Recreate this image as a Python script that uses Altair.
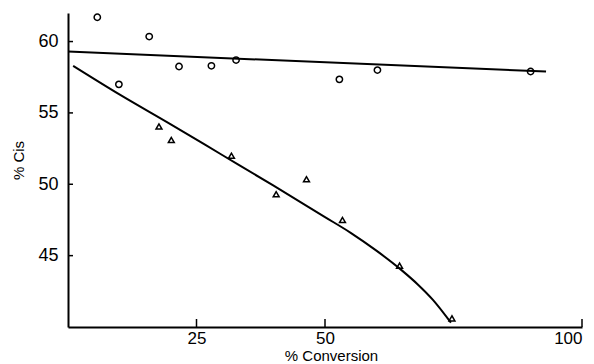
import altair as alt
import pandas as pd

# Circles (upper series)
circ_x = [5.7, 9.9, 15.8, 21.6, 27.9, 32.7, 52.8, 60.2, 90.0]
circ_y = [61.7, 57.0, 60.35, 58.25, 58.3, 58.7, 57.35, 58.0, 57.9]

# Triangles (lower series)
tri_x = [17.7, 20.1, 31.8, 40.5, 46.4, 53.4, 64.5, 74.7]
tri_y = [54.05, 53.1, 52.0, 49.3, 50.35, 47.5, 44.3, 40.6]

# Fitted lines
top_x = [0, 93]
top_y = [59.3, 57.9]
curve_x = [1, 10, 20, 30, 40, 50, 55, 60, 65, 68, 71, 74.5]
curve_y = [58.3, 56.3, 54.2, 52.05, 49.9, 47.7, 46.6, 45.35, 43.95, 43.0, 41.9, 40.3]

x_ticks = [25, 50, 100]
y_ticks = [45, 50, 55, 60]

FONT = "Liberation Sans"

circ_df = pd.DataFrame({"x": circ_x, "y": circ_y})
tri_df = pd.DataFrame({"x": tri_x, "y": tri_y})
top_df = pd.DataFrame({"x": top_x, "y": top_y})
curve_df = pd.DataFrame({"x": curve_x, "y": curve_y})

xscale = alt.Scale(domain=[0, 100], nice=False, zero=False)
yscale = alt.Scale(domain=[40, 62], nice=False, zero=False)

xaxis = alt.Axis(values=x_ticks, ticks=False, grid=False, domain=True,
                 domainColor="black", domainWidth=2, labelFont=FONT,
                 labelFontSize=17, labelColor="black", labelPadding=3,
                 title="% Conversion", titleFont=FONT, titleFontSize=15,
                 titleFontWeight="normal", titleColor="#000000",
                 titleX=263, titleY=33, titleBaseline="alphabetic")
yaxis = alt.Axis(values=y_ticks, ticks=False, grid=False, domain=True,
                 domainColor="black", domainWidth=2, labelFont=FONT,
                 labelFontSize=18, labelColor="black", labelPadding=10,
                 title="% Cis", titleFont=FONT, titleFontSize=15,
                 titleFontWeight="normal", titleColor="#000000",
                 titleX=-45, titleY=147, titleBaseline="alphabetic",
                 titleAngle=270)

X = alt.X("x:Q", scale=xscale, axis=xaxis)
Y = alt.Y("y:Q", scale=yscale, axis=yaxis)
Xn = alt.X("x:Q", scale=xscale)
Yn = alt.Y("y:Q", scale=yscale)

top_line = alt.Chart(top_df).mark_line(color="black", strokeWidth=2).encode(x=X, y=Y)
curve = alt.Chart(curve_df).mark_line(color="black", strokeWidth=2,
                                      interpolate="monotone").encode(x=Xn, y=Yn)
circles = alt.Chart(circ_df).mark_point(shape="circle", filled=False, color="black",
                                        size=40, strokeWidth=1.5, opacity=1).encode(x=Xn, y=Yn)
tris = alt.Chart(tri_df).mark_point(shape="triangle-up", filled=False, color="black",
                                    size=35, strokeWidth=1.5, opacity=1).encode(x=Xn, y=Yn)

# inward tick marks (drawn as short rules anchored on the axes)
xt_df = pd.DataFrame({"t": x_ticks})
yt_df = pd.DataFrame({"t": y_ticks})
xticks = alt.Chart(xt_df).mark_rule(color="black", strokeWidth=1.5).encode(
    x=alt.X("t:Q", scale=xscale),
    y=alt.value(314), y2=alt.value(306))
yticks = alt.Chart(yt_df).mark_rule(color="black", strokeWidth=1.5).encode(
    y=alt.Y("t:Q", scale=yscale),
    x=alt.value(0), x2=alt.value(5))

chart = alt.layer(top_line, curve, circles, tris, xticks, yticks).properties(
    width=514, height=314,
    autosize=alt.AutoSizeParams(type="none"),
    padding={"left": 68, "top": 13, "right": 12, "bottom": 37},
    background="white",
).configure_view(stroke=None)

chart.save("out.html", embed_options={"renderer": "svg", "actions": False})
